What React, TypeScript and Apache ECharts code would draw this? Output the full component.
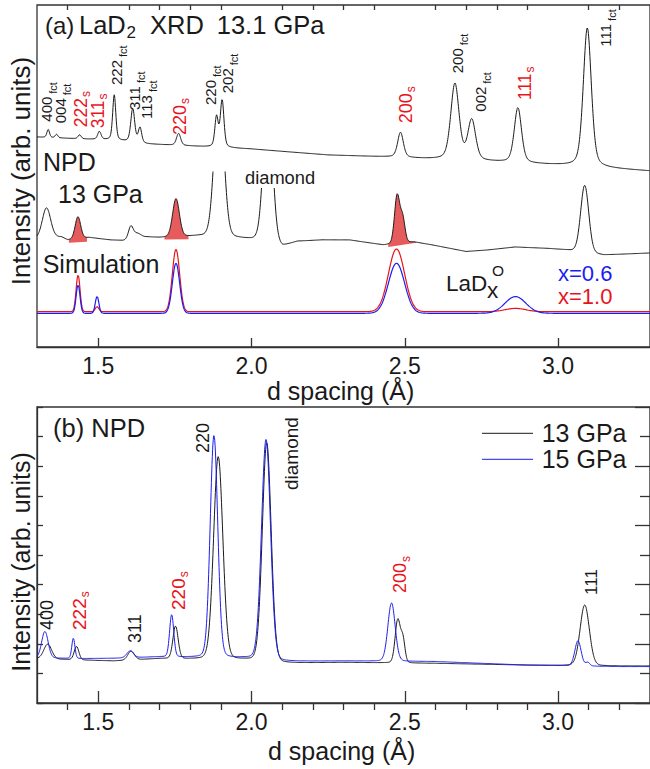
import React, { useEffect, useRef } from 'react';
import * as echarts from 'echarts';

// ---------- axis / tick values ----------
const D_MIN = 1.3;
const D_MAX = 3.3;
const majorTicks = [1.5, 2.0, 2.5, 3.0];
const minorTicks = [1.4, 1.6, 1.7, 1.8, 1.9, 2.1, 2.2, 2.3, 2.4, 2.6, 2.7, 2.8, 2.9, 3.1, 3.2];

// ---------- panel (a): XRD 13.1 GPa (arb. units) ----------
const xrdBaseD = [1.30, 1.45, 1.55, 1.66, 1.80, 2.00, 2.25, 2.45, 2.58, 2.80, 2.99, 3.30];
const xrdBaseI = [210, 208, 207, 203, 201, 198, 192, 190, 188, 185, 182, 176];
const xrdPeakD = [1.3365, 1.3637, 1.439, 1.5035, 1.552, 1.6124, 1.636, 1.762, 1.8858, 1.904, 2.486, 2.6635, 2.7184, 2.869, 3.0955];
const xrdPeakH = [8, 3.5, 4, 8, 45, 33.5, 15, 12, 30, 47, 25, 76, 40, 55, 139];
const xrdPeakW = [0.010, 0.010, 0.012, 0.013, 0.012, 0.015, 0.013, 0.016, 0.013, 0.014, 0.022, 0.032, 0.030, 0.028, 0.031];

// ---------- panel (a): NPD 13 GPa ----------
const npdBaseD = [1.30, 1.38, 1.40, 1.47, 1.54, 1.58, 1.66, 1.70, 1.83, 1.95, 2.02, 2.06, 2.10, 2.15, 2.23, 2.32, 2.43, 2.53, 2.59, 2.70, 2.77, 2.86, 2.97, 3.03, 3.15, 3.30];
const npdBaseI = [108.5, 110, 107, 109.5, 107, 106.5, 110, 109.5, 111, 109, 107, 105, 100.5, 105.5, 107, 107, 102, 105, 102, 95.5, 97, 100, 98.5, 97, 92, 94];
const npdPeakD = [1.331, 1.4335, 1.606, 1.626, 1.7535, 1.894, 2.0535, 2.475, 2.493, 3.087];
const npdPeakH = [30, 22, 12, 5, 38, 150, 150, 48, 24, 67];
const npdPeakW = [0.032, 0.021, 0.018, 0.030, 0.026, 0.036, 0.034, 0.020, 0.018, 0.031];
// shaded (red) peaks: [d start, base start, d end, base end]
const npdFillD1 = [1.404, 1.716, 2.446];
const npdFillB1 = [104.3, 107.5, 100.0];
const npdFillD2 = [1.463, 1.7945, 2.5375];
const npdFillB2 = [105.3, 107.7, 104.3];

// ---------- panel (a): Simulation ----------
const simPeakD = [1.434, 1.496, 1.7535, 2.473, 2.861];
const simRedH = [36.7, 5, 62.3, 62.7, 3.3];
const simBlueH = [28.3, 16.7, 50, 50, 16.7];
const simPeakW = [0.015, 0.014, 0.028, 0.062, 0.080];
const simRedBaseD = [1.30, 3.30];
const simRedBaseI = [35.3, 35.3];
const simBlueBaseD = [1.30, 3.30];
const simBlueBaseI = [33.7, 33.7];

// ---------- panel (b): NPD 13 GPa / 15 GPa ----------
const bBaseD = [1.30, 1.45, 1.55, 1.70, 1.98, 2.10, 2.30, 2.60, 2.90, 3.20, 3.30];
const b13BaseI = [1.50, 1.45, 1.42, 1.50, 1.45, 1.34, 1.37, 1.34, 1.28, 1.25, 1.25];
const b15BaseI = [1.52, 1.50, 1.51, 1.56, 1.51, 1.40, 1.42, 1.40, 1.28, 1.23, 1.23];
const b13PeakD = [1.335, 1.429, 1.607, 1.752, 1.8913, 2.0496, 2.477, 2.494, 3.087];
const b13PeakH = [0.5, 0.45, 0.3, 1.1, 6.85, 7.4, 1.45, 0.75, 2.05];
const b13PeakW = [0.030, 0.018, 0.025, 0.020, 0.0355, 0.034, 0.020, 0.016, 0.0355];
const b15PeakD = [1.3258, 1.4186, 1.6037, 1.7394, 1.8774, 2.0473, 2.4567, 3.065, 3.097];
const b15PeakH = [0.9, 0.68, 0.23, 1.42, 7.5, 7.45, 1.97, 0.85, 0.12];
const b15PeakW = [0.025, 0.012, 0.025, 0.016, 0.029, 0.0345, 0.028, 0.024, 0.015];

// ---------- styles ----------
const FONT = '"Liberation Sans", Arial, Helvetica, sans-serif';
const INK = '#1a1a1a';
const RED = '#e8141c';
const BLUE = '#1c1cf0';
const FILL = '#e65b5b';

function baseAt(d: number, bd: number[], bi: number[]) {
  if (d <= bd[0]) return bi[0];
  for (let i = 1; i < bd.length; i++) {
    if (d <= bd[i]) {
      const f = (d - bd[i - 1]) / (bd[i] - bd[i - 1]);
      return bi[i - 1] + f * (bi[i] - bi[i - 1]);
    }
  }
  return bi[bi.length - 1];
}

function peak(d: number, c: number, h: number, w: number, eta: number) {
  const t = (d - c) / w;
  const g = Math.exp(-4 * Math.LN2 * t * t);
  const l = 1 / (1 + 4 * t * t);
  return h * (eta * l + (1 - eta) * g);
}

function buildTrace(bd: number[], bi: number[], pd: number[], ph: number[], pw: number[], eta: number) {
  const out: number[][] = [];
  const n = 2000;
  for (let i = 0; i <= n; i++) {
    const d = D_MIN + (i * (D_MAX - D_MIN)) / n;
    let v = baseAt(d, bd, bi);
    for (let k = 0; k < pd.length; k++) v += peak(d, pd[k], ph[k], pw[k], eta);
    out.push([Math.round(d * 10000) / 10000, v]);
  }
  return out;
}

export default function App() {
  const ref = useRef<HTMLDivElement>(null);

  useEffect(() => {
    document.body.style.margin = '0';
    const chart = echarts.init(ref.current as HTMLDivElement, null, { renderer: 'svg' });

    const xrd = buildTrace(xrdBaseD, xrdBaseI, xrdPeakD, xrdPeakH, xrdPeakW, 0.35);
    const npd = buildTrace(npdBaseD, npdBaseI, npdPeakD, npdPeakH, npdPeakW, 0.1);
    const simRed = buildTrace(simRedBaseD, simRedBaseI, simPeakD, simRedH, simPeakW, 0);
    const simBlue = buildTrace(simBlueBaseD, simBlueBaseI, simPeakD, simBlueH, simPeakW, 0);
    const b13 = buildTrace(bBaseD, b13BaseI, b13PeakD, b13PeakH, b13PeakW, 0.1);
    const b15 = buildTrace(bBaseD, b15BaseI, b15PeakD, b15PeakH, b15PeakW, 0.1);

    const frame = { show: true, borderColor: '#333', borderWidth: 1.3, backgroundColor: 'transparent' };
    const axisLineStyle = { color: '#333', width: 1.3 };

    const xMajor = (gridIndex: number, len: number) => ({
      type: 'value', gridIndex, min: D_MIN, max: D_MAX,
      axisLine: { show: true, lineStyle: axisLineStyle },
      axisTick: { show: true, inside: true, length: len, customValues: majorTicks, lineStyle: axisLineStyle },
      axisLabel: {
        show: true, customValues: majorTicks, margin: 7, fontSize: 23, color: INK, fontFamily: FONT,
        formatter: (v: number) => v.toFixed(1),
      },
      splitLine: { show: false },
    });
    const xMinor = (gridIndex: number, len: number) => ({
      type: 'value', gridIndex, min: D_MIN, max: D_MAX,
      axisLine: { show: false },
      axisTick: { show: true, inside: true, length: len, customValues: minorTicks, lineStyle: axisLineStyle },
      axisLabel: { show: false },
      splitLine: { show: false },
    });

    const txt = (x: number, y: number, text: string, size: number, color = INK, lh?: number) => ({
      type: 'text', x, y, z: 100,
      style: {
        text, fontSize: size, fontFamily: FONT, fill: color, align: 'left', verticalAlign: 'middle',
        ...(lh ? { lineHeight: lh } : {}),
      },
    });

    const rot = (cx: number, bottom: number, main: string, sub: string, color: string,
      mSize: number, sSize: number, lm: number, ls: number, gap = 2) => ({
      type: 'text', x: cx, y: bottom, rotation: Math.PI / 2, z: 100,
      style: {
        text: sub ? `{m|${main}}{s|${sub}}` : `{m|${main}}`,
        align: 'left', verticalAlign: 'middle', fontFamily: FONT, fill: color,
        rich: {
          m: { fontSize: mSize, fontFamily: FONT, fill: color, lineHeight: lm, verticalAlign: 'middle' },
          s: { fontSize: sSize, fontFamily: FONT, fill: color, lineHeight: ls, verticalAlign: 'bottom', padding: [0, 0, 0, gap] },
        },
      },
    });
    const fct = (cx: number, bottom: number, main: string) => rot(cx, bottom, main, 'fct', INK, 15, 11, 24, 12, 3);
    const sRed = (cx: number, bottom: number, main: string, size = 18) => rot(cx, bottom, main, 's', RED, size, 12, 22, 12.5, 1);

    const graphic: any[] = [
      // panel (a) title
      txt(45, 25, '(a)', 24),
      txt(79, 25, 'LaD', 25.5),
      txt(126.5, 32, '2', 17),
      txt(150, 25, 'XRD', 25.5),
      txt(216.7, 25, '13.1 GPa', 25.5),
      txt(43, 162, 'NPD', 25),
      txt(58, 194, '13 GPa', 25),
      txt(42.7, 264, 'Simulation', 25),
      { type: 'rect', z: 90, shape: { x: 257, y: 170, width: 26, height: 18 }, style: { fill: '#fff' } },
      txt(245, 177, 'diamond', 18.3),
      txt(446, 283.6, 'LaD', 22.5, INK, 18),
      txt(487, 290, 'x', 22.5, INK, 12),
      txt(492, 270.5, 'O', 15.5, INK, 10),
      txt(558, 273, 'x=0.6', 22, BLUE),
      txt(558, 296, 'x=1.0', 22, RED),
      // peak labels (a)
      fct(46.7, 121.7, '400'),
      fct(60.8, 123.3, '004'),
      sRed(81, 127.3, '222', 17.5),
      sRed(98.3, 128.3, '311', 17.5),
      fct(116.7, 85, '222'),
      fct(134, 110, '311'),
      fct(146.5, 119, '113'),
      sRed(180, 135, '220', 18),
      fct(210.7, 105, '220'),
      fct(227.3, 93.3, '202'),
      sRed(405.7, 123.3, '200', 18),
      fct(457.3, 73.3, '200'),
      fct(480, 111.7, '002'),
      sRed(525, 100, '111', 17.5),
      fct(605.7, 46.7, '111'),
      // axis titles
      txt(267, 391, 'd spacing (Å)', 25),
      txt(268, 751, 'd spacing (Å)', 25),
      { type: 'text', x: 21, y: 171, rotation: Math.PI / 2, z: 100,
        style: { text: 'Intensity (arb. units)', fontSize: 26, fontFamily: FONT, fill: INK, align: 'center', verticalAlign: 'middle' } },
      { type: 'text', x: 21, y: 562, rotation: Math.PI / 2, z: 100,
        style: { text: 'Intensity (arb. units)', fontSize: 25, fontFamily: FONT, fill: INK, align: 'center', verticalAlign: 'middle' } },
      // panel (b)
      txt(53, 427.5, '(b) NPD', 25.5),
      rot(47, 630, '400', '', INK, 18, 12, 20, 12),
      rot(79, 630, '222', 's', RED, 19, 12, 24, 12.5, 1),
      rot(135, 643, '311', '', INK, 18, 12, 20, 12),
      rot(178, 610, '220', 's', RED, 19, 12, 24, 12.5, 1),
      rot(203.3, 453, '220', '', INK, 18, 12, 20, 12),
      rot(291, 490, 'diamond', '', INK, 19, 12, 20, 12),
      rot(400, 593, '200', 's', RED, 18, 12, 24, 12.5, 1),
      rot(591.7, 595, '111', '', INK, 17, 12, 20, 12),
      // legend
      { type: 'line', z: 100, shape: { x1: 482, y1: 433.3, x2: 533, y2: 433.3 }, style: { stroke: INK, lineWidth: 1 } },
      { type: 'line', z: 100, shape: { x1: 482, y1: 459.3, x2: 533, y2: 459.3 }, style: { stroke: BLUE, lineWidth: 1 } },
      txt(541.7, 433, '13 GPa', 25),
      txt(541.7, 459, '15 GPa', 25),
    ];

    const lineSeries = (name: string, data: number[][], color: string, xi: number, yi: number, width = 1, z = 2) => ({
      name, type: 'line', data, xAxisIndex: xi, yAxisIndex: yi, showSymbol: false, symbol: 'none',
      lineStyle: { color, width }, itemStyle: { color }, z, silent: true, clip: true,
    });

    const option: any = {
      animation: false,
      backgroundColor: '#fff',
      textStyle: { fontFamily: FONT },
      grid: [
        { left: 37, top: 5, width: 618, height: 342, ...frame },
        { left: 37, top: 172, width: 618, height: 175, show: false },
        { left: 37, top: 407, width: 618, height: 296, ...frame },
      ],
      xAxis: [
        xMajor(0, 9),
        xMinor(0, 5),
        { type: 'value', gridIndex: 1, min: D_MIN, max: D_MAX, show: false },
        xMajor(2, 12),
        xMinor(2, 7),
      ],
      yAxis: [
        { type: 'value', gridIndex: 0, min: 0, max: 342, show: false },
        { type: 'value', gridIndex: 1, min: 0, max: 175, show: false },
        {
          type: 'value', gridIndex: 2, min: 0, max: 10, interval: 1, position: 'left',
          axisLine: { show: true, lineStyle: axisLineStyle },
          axisTick: { show: true, inside: true, length: 6, lineStyle: axisLineStyle },
          axisLabel: { show: false }, splitLine: { show: false },
        },
        {
          type: 'value', gridIndex: 2, min: 0, max: 10, interval: 2, position: 'right',
          axisLine: { show: true, lineStyle: axisLineStyle },
          axisTick: { show: true, inside: true, length: 15, lineStyle: axisLineStyle },
          minorTick: { show: true, splitNumber: 2, length: 10, lineStyle: axisLineStyle },
          axisLabel: { show: false }, splitLine: { show: false }, minorSplitLine: { show: false },
        },
      ],
      series: [
        lineSeries('XRD 13.1 GPa', xrd, INK, 0, 0, 1),
        lineSeries('Simulation x=1.0', simRed, RED, 0, 0, 1.2),
        lineSeries('Simulation x=0.6', simBlue, BLUE, 0, 0, 1.2),
        {
          name: 'NPD fill', type: 'custom', xAxisIndex: 2, yAxisIndex: 1, z: 1, silent: true, clip: true,
          data: npdFillD1.map((_, i) => [i, 0]),
          renderItem: (_params: any, api: any) => {
            const i = api.value(0);
            const d1 = npdFillD1[i];
            const d2 = npdFillD2[i];
            const pts: number[][] = [];
            for (const p of npd) {
              if (p[0] >= d1 && p[0] <= d2) pts.push(api.coord(p));
            }
            pts.push(api.coord([d2, npdFillB2[i]]));
            pts.push(api.coord([d1, npdFillB1[i]]));
            return { type: 'polygon', shape: { points: pts }, style: { fill: FILL } };
          },
        },
        lineSeries('NPD 13 GPa', npd, INK, 2, 1, 1, 3),
        lineSeries('13 GPa', b13, INK, 3, 2, 1),
        lineSeries('15 GPa', b15, BLUE, 3, 2, 1),
      ],
      graphic,
    };

    chart.setOption(option);
    return () => chart.dispose();
  }, []);

  return <div ref={ref} style={{ width: 650, height: 769 }} />;
}
